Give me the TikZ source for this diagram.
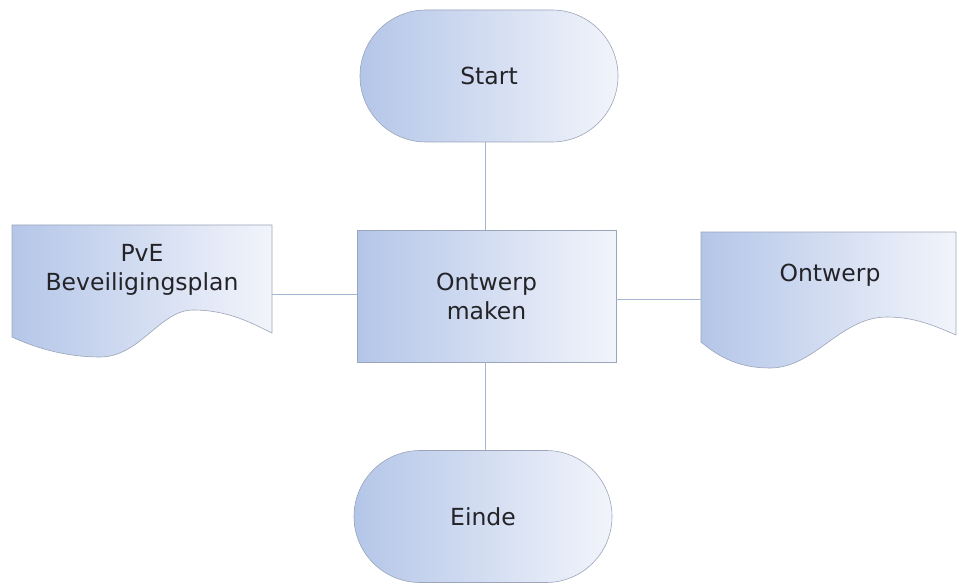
\documentclass[tikz,border=0pt]{standalone}
\usepackage{fontspec}
\setmainfont{DejaVu Sans}
\usetikzlibrary{shapes.misc}
\definecolor{fillL}{RGB}{180,198,232}
\definecolor{fillR}{RGB}{242,244,251}
\definecolor{edge}{RGB}{155,165,185}
\definecolor{conn}{RGB}{165,182,208}
\definecolor{txt}{RGB}{35,35,40}
\begin{document}
\begin{tikzpicture}[x=1pt,y=-1pt,
  lbl/.style={font=\fontsize{23.5}{29}\selectfont, text=txt, align=center},
  shade/.style={left color=fillL, right color=fillR, draw=edge, line width=0.6pt},
  term/.style={shade, rounded rectangle, minimum width=258pt, minimum height=132pt, inner sep=0pt, lbl},
  procbox/.style={shade, rectangle, minimum width=259pt, minimum height=132pt, inner sep=0pt, lbl},
  docshape/.style={shade},
  ghost/.style={rectangle, inner sep=0pt, lbl},
  link/.style={draw=conn, line width=0.7pt}]
\useasboundingbox (0,0) rectangle (957,585);
\fill[white] (0,0) rectangle (957,585);

% document shapes
\path[docshape] (12,225) -- (272,225) -- (272,333)
  .. controls (255,325) and (230,310) .. (193,310)
  .. controls (160,310) and (140,357) .. (100,357)
  .. controls (70,357) and (40,350) .. (12,337) -- cycle;
\path[docshape] (701,232) -- (956,232) -- (956,335)
  .. controls (935,326) and (915,317) .. (887,317)
  .. controls (840,317) and (815,368) .. (770,368)
  .. controls (740,368) and (720,358) .. (701,342) -- cycle;

\node[term] (start) at (489,76) {Start};
\node[procbox] (box) at (486.5,296) {Ontwerp\\maken};
\node[term] (einde) at (483,516.5) {Einde};
\node[ghost, minimum width=260pt, minimum height=138pt] (pve) at (142,294) {};
\node[lbl] at (142,270) {PvE\\Beveiligingsplan};
\node[ghost, minimum width=255pt, minimum height=134pt] (ontw) at (828.5,299) {};
\node[lbl] at (830,275) {Ontwerp};

\draw[link] (start.south -| 485,0) -- (box.north -| 485,0);
\draw[link] (box.south -| 485,0) -- (einde.north -| 485,0);
\draw[link] (pve.east) -- (pve.east -| box.west);
\draw[link] (box.east |- ontw.west) -- (ontw.west);
\end{tikzpicture}
\end{document}
